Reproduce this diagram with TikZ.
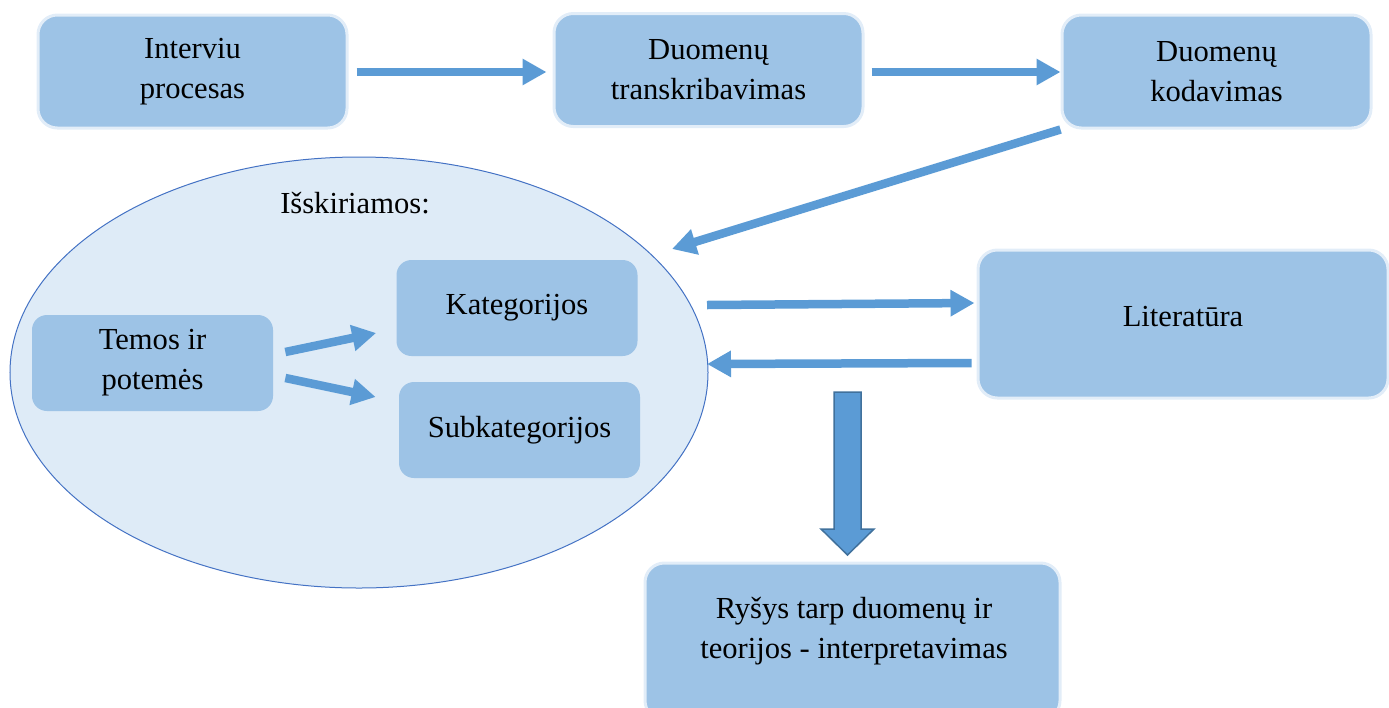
\documentclass[tikz,border=0pt]{standalone}
\usepackage{fontspec}
\setmainfont{Liberation Serif}
\usepackage{xcolor}
\definecolor{CBox}{HTML}{9DC3E6}
\definecolor{CBoxRim}{HTML}{E2EDF8}
\definecolor{CGroup}{HTML}{DEEBF7}
\definecolor{CGroupLine}{HTML}{4472C4}
\definecolor{CArrow}{HTML}{5B9BD5}
\definecolor{CArrowLine}{HTML}{41719C}
\usetikzlibrary{arrows.meta,shapes.geometric}
\newcommand{\boxfont}{\fontsize{17.4}{22.8}\selectfont}
\tikzstyle{stageNode}=[rectangle, rounded corners=11pt, draw=CBoxRim, fill=CBox,
  line width=0.06cm, align=center, inner sep=0pt, font=\boxfont,
  minimum width=6.18cm, minimum height=2.26cm]
\tikzstyle{codeNode}=[rectangle, rounded corners=8.5pt, fill=CBox,
  align=center, inner sep=0pt, font=\boxfont,
  minimum width=4.82cm, minimum height=1.92cm]
\tikzstyle{groupNode}=[ellipse, draw=CGroupLine, fill=CGroup, line width=0.02cm,
  inner sep=0pt, minimum width=13.96cm, minimum height=8.62cm]
\tikzstyle{labelNode}=[align=center, inner sep=0pt, font=\boxfont]
\tikzstyle{arr}=[-{Triangle[length=0.48cm,width=0.5cm]}, line width=0.17cm, draw=CArrow]
\tikzstyle{blockArr}=[fill=CArrow, draw=CArrowLine, line width=0.03cm]

\begin{document}
\begin{tikzpicture}
\useasboundingbox (0,0) rectangle (27.78,-14.14);

% group of extracted items
\node[groupNode] (grp) at (7.18,-7.45) {};
\node[labelNode] (grpTitle) at (7.10,-4.06) {Išskiriamos:};

% top row
\node[stageNode] (int) at (3.85,-1.43) {Interviu\\procesas};
\node[stageNode] (trans) at (14.17,-1.40) {Duomenų\\transkribavimas};
\node[stageNode] (kod) at (24.33,-1.43) {Duomenų\\kodavimas};

% inside the ellipse
\node[codeNode] (tem) at (3.05,-7.26) {Temos ir\\potemės};
\node[codeNode] (kat) at (10.34,-6.16) {Kategorijos};
\node[codeNode] (sub) at (10.39,-8.60) {Subkategorijos};

% right side and result
\node[stageNode, minimum width=8.20cm, minimum height=2.96cm, text depth=0.32cm] (lit) at (23.66,-6.48) {Literatūra};
\node[stageNode, minimum width=8.30cm, minimum height=3.14cm] (res) at (17.05,-12.83) {};
\node[labelNode] (resTxt) at (17.08,-12.62) {Ryšys tarp duomenų ir\\teorijos - interpretavimas};

\coordinate (grpIn) at (13.44,-4.98);
\coordinate (grpOut) at (14.14,-6.10);
\coordinate (grpBack) at (14.14,-7.28);
\coordinate (downTop) at (16.95,-7.84);

\draw[arr, shorten <=0.16cm, shorten >=0.12cm] ([yshift=-0.01cm]int.east) -- ([yshift=-0.01cm]int.east -| trans.west);
\draw[arr, shorten <=0.14cm] ([yshift=-0.04cm]trans.east) -- ([yshift=-0.04cm]trans.east -| kod.west);
\draw[arr] (kod.south west) -- (grpIn);
\draw[arr] ([xshift=0.24cm,yshift=0.22cm]tem.east) -- ([xshift=-0.4cm,yshift=-0.5cm]kat.west);
\draw[arr] ([xshift=0.24cm,yshift=-0.3cm]tem.east) -- ([xshift=-0.46cm,yshift=0.66cm]sub.west);
\draw[arr] (grpOut) -- ([xshift=-0.04cm,yshift=0.42cm]lit.west);
\draw[arr] ([xshift=-0.1cm,yshift=-0.78cm]lit.west) -- (grpBack);

% block arrow down to the result
\draw[blockArr] (downTop) ++(-0.27,0) -- ++(0.54,0) -- ++(0,-2.74) -- ++(0.26,0)
  -- ++(-0.53,-0.52) -- ++(-0.53,0.52) -- ++(0.26,0) -- cycle;
\end{tikzpicture}
\end{document}
